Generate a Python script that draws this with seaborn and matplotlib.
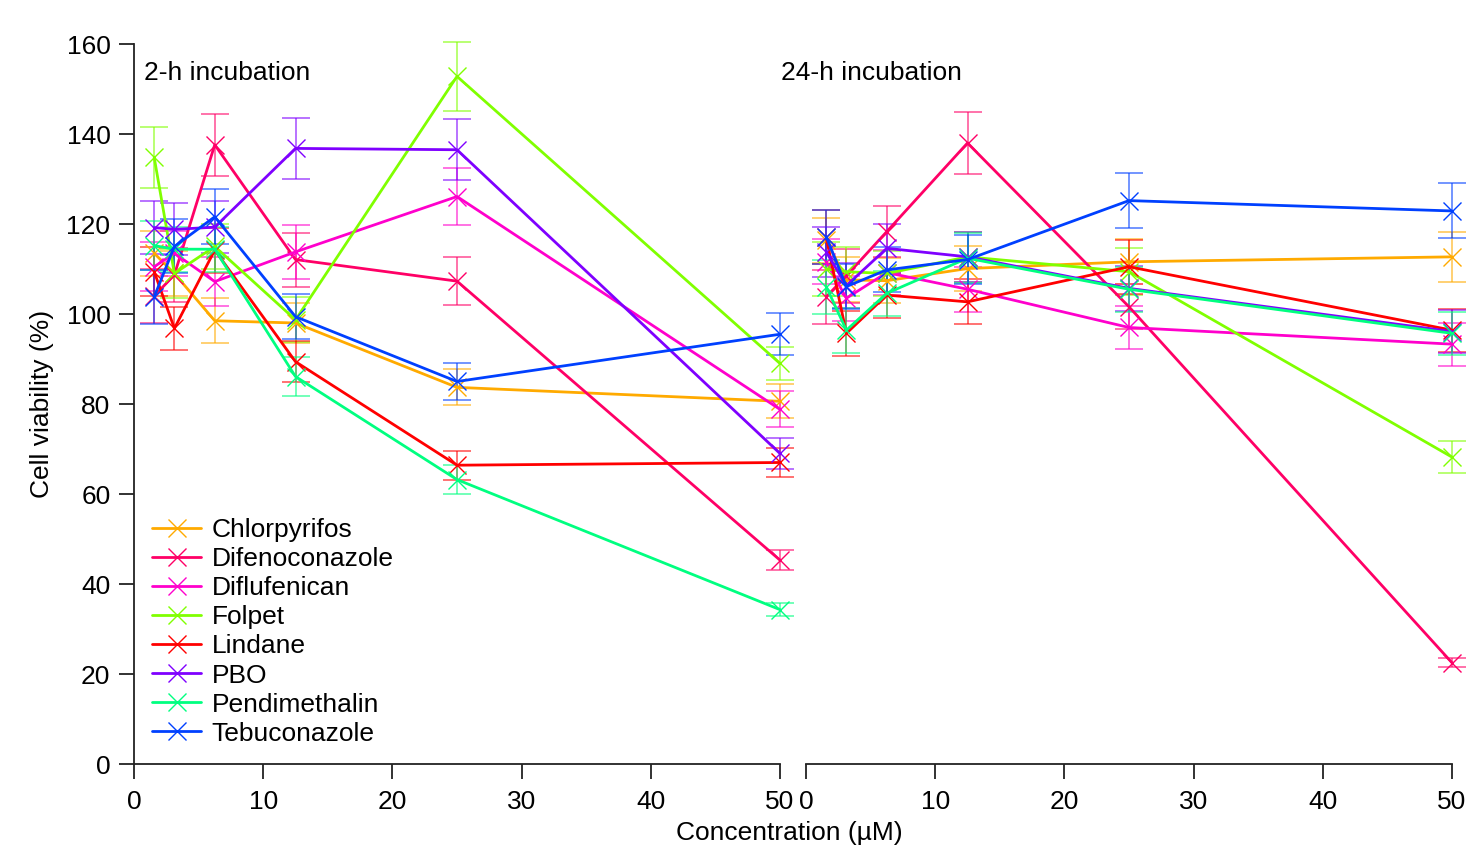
import matplotlib
matplotlib.use("Agg")
import matplotlib.pyplot as plt
import seaborn as sns
import numpy as np
import pandas as pd

conc = [1.5625, 3.125, 6.25, 12.5, 25, 50]
compounds = ["Chlorpyrifos", "Difenoconazole", "Diflufenican", "Folpet",
             "Lindane", "PBO", "Pendimethalin", "Tebuconazole"]
colors = ["#FFAA00", "#FF0066", "#FF00CC", "#80FF00",
          "#FF0000", "#7F00FF", "#00FF80", "#0040FF"]

# 2-h incubation
h2_chlorpyrifos = [113.5, 109.0, 98.5, 98.0, 83.7, 80.6]
h2_difenoconazole = [104.0, 108.7, 137.6, 112.1, 107.3, 45.3]
h2_diflufenican = [110.5, 113.5, 107.2, 113.8, 126.1, 78.8]
h2_folpet = [134.8, 109.0, 115.0, 98.7, 152.8, 89.0]
h2_lindane = [109.4, 96.8, 114.2, 89.4, 66.4, 67.0]
h2_pbo = [119.2, 118.8, 119.3, 136.8, 136.5, 69.0]
h2_pendimethalin = [115.2, 114.4, 114.4, 86.1, 63.2, 34.3]
h2_tebuconazole = [103.8, 115.0, 121.6, 99.4, 85.0, 95.5]

h2_chlorpyrifos_err = [5, 5, 5, 4.5, 4, 3.8]
h2_difenoconazole_err = [6, 6, 6.9, 6, 5.4, 2.2]
h2_diflufenican_err = [5.5, 5, 5.5, 6, 6.3, 4]
h2_folpet_err = [6.7, 5.5, 5, 5, 7.6, 3.6]
h2_lindane_err = [5.5, 4.8, 5, 4.5, 3.2, 3.2]
h2_pbo_err = [5.8, 5.8, 5.8, 6.8, 6.8, 3.4]
h2_pendimethalin_err = [5.5, 5, 5, 4.3, 3.2, 1.5]
h2_tebuconazole_err = [6, 6, 6.1, 5, 4.2, 4.7]

# 24-h incubation
h24_chlorpyrifos = [116.4, 107.6, 107.4, 110.1, 111.6, 112.7]
h24_difenoconazole = [103.8, 108.5, 118.3, 138.0, 101.6, 22.5]
h24_diflufenican = [111.6, 103.5, 109.2, 105.5, 97.0, 93.3]
h24_folpet = [110.0, 109.4, 109.0, 112.7, 109.4, 68.2]
h24_lindane = [117.0, 95.7, 104.2, 102.7, 110.5, 96.4]
h24_pbo = [113.8, 106.3, 114.6, 112.7, 105.7, 96.1]
h24_pendimethalin = [106.1, 96.4, 104.6, 112.4, 105.5, 95.7]
h24_tebuconazole = [117.2, 106.1, 109.8, 112.1, 125.2, 122.9]

h24_chlorpyrifos_err = [5, 5, 5, 5, 5, 5.6]
h24_difenoconazole_err = [6, 6, 5.7, 6.9, 5, 1]
h24_diflufenican_err = [5, 5, 5, 5, 4.8, 4.8]
h24_folpet_err = [6, 5.4, 5, 5.5, 5.2, 3.5]
h24_lindane_err = [6, 5, 5, 5, 6, 4.8]
h24_pbo_err = [5.5, 5, 5.5, 5.5, 5, 4.8]
h24_pendimethalin_err = [6, 5, 5, 5.5, 5, 4.8]
h24_tebuconazole_err = [6, 5, 5, 5.5, 6.2, 6.1]

h2_vals = [h2_chlorpyrifos, h2_difenoconazole, h2_diflufenican, h2_folpet,
           h2_lindane, h2_pbo, h2_pendimethalin, h2_tebuconazole]
h2_errs = [h2_chlorpyrifos_err, h2_difenoconazole_err, h2_diflufenican_err, h2_folpet_err,
           h2_lindane_err, h2_pbo_err, h2_pendimethalin_err, h2_tebuconazole_err]
h24_vals = [h24_chlorpyrifos, h24_difenoconazole, h24_diflufenican, h24_folpet,
            h24_lindane, h24_pbo, h24_pendimethalin, h24_tebuconazole]
h24_errs = [h24_chlorpyrifos_err, h24_difenoconazole_err, h24_diflufenican_err, h24_folpet_err,
            h24_lindane_err, h24_pbo_err, h24_pendimethalin_err, h24_tebuconazole_err]

sns.set_theme(style="white")
plt.rcParams['font.family'] = ['Liberation Sans', 'DejaVu Sans']
FS = 19
plt.rcParams['font.size'] = FS
plt.rcParams['text.color'] = 'black'
plt.rcParams['axes.labelcolor'] = 'black'
plt.rcParams['xtick.color'] = 'black'
plt.rcParams['ytick.color'] = 'black'

W, H = 1469, 846
fig = plt.figure(figsize=(W / 100, H / 100), dpi=100)
ax1 = fig.add_axes([134 / W, 1 - 764 / H, 646 / W, 720 / H])
ax2 = fig.add_axes([806 / W, 1 - 764 / H, 646 / W, 720 / H])

axis_color = "#222222"

def draw(ax, vals, errs, with_label):
    for name, col, v, e in zip(compounds, colors, vals, errs):
        df = pd.DataFrame({"conc": conc, "val": v})
        ax.errorbar(conc, v, yerr=e, fmt="none", ecolor=col, elinewidth=1.1,
                    capsize=10, capthick=1.1, alpha=0.7, zorder=2, clip_on=False)
        sns.lineplot(data=df, x="conc", y="val", ax=ax, color=col, linewidth=2,
                     marker="x", markersize=13, markeredgewidth=1.0,
                     markeredgecolor=col, label=name if with_label else None,
                     legend=False, zorder=3, clip_on=False)

draw(ax1, h2_vals, h2_errs, True)
draw(ax2, h24_vals, h24_errs, False)

for ax in (ax1, ax2):
    ax.set_xlim(0, 50)
    ax.set_ylim(0, 160)
    ax.set_xticks([0, 10, 20, 30, 40, 50])
    ax.set_xlabel("")
    ax.set_ylabel("")
    ax.patch.set_alpha(0)
    for s in ("top", "right"):
        ax.spines[s].set_visible(False)
    ax.spines["bottom"].set_color(axis_color)
    ax.spines["bottom"].set_linewidth(1.3)
    ax.tick_params(axis="x", direction="out", length=11, width=1.3, color=axis_color,
                   labelsize=FS, pad=8, labelcolor="black", bottom=True)
    ax.grid(False)

ax1.spines["left"].set_color(axis_color)
ax1.spines["left"].set_linewidth(1.3)
ax1.set_yticks([0, 20, 40, 60, 80, 100, 120, 140, 160])
ax1.tick_params(axis="y", direction="out", length=11, width=1.3, color=axis_color,
                labelsize=FS, pad=6, labelcolor="black", left=True)
ax2.spines["left"].set_visible(False)
ax2.set_yticks([])

ax1.set_ylabel("Cell viability (%)", fontsize=FS, labelpad=9, color="black")

handles, labels = ax1.get_legend_handles_labels()
leg = ax1.legend(handles, labels, loc="lower left", bbox_to_anchor=(0.0, 0.0),
                 frameon=False, fontsize=FS, handlelength=1.85, handletextpad=0.4,
                 labelspacing=0.19, borderaxespad=0.3)
for t in leg.get_texts():
    t.set_color("black")

fig.text(144 / W, 1 - 73 / H, "2-h incubation", fontsize=FS, va="center", ha="left", color="black")
fig.text(781 / W, 1 - 73 / H, "24-h incubation", fontsize=FS, va="center", ha="left", color="black")
fig.text(789 / W, 1 - 833 / H, "Concentration (µM)", fontsize=FS, va="center", ha="center", color="black")

fig.savefig("out.png", dpi=100)
